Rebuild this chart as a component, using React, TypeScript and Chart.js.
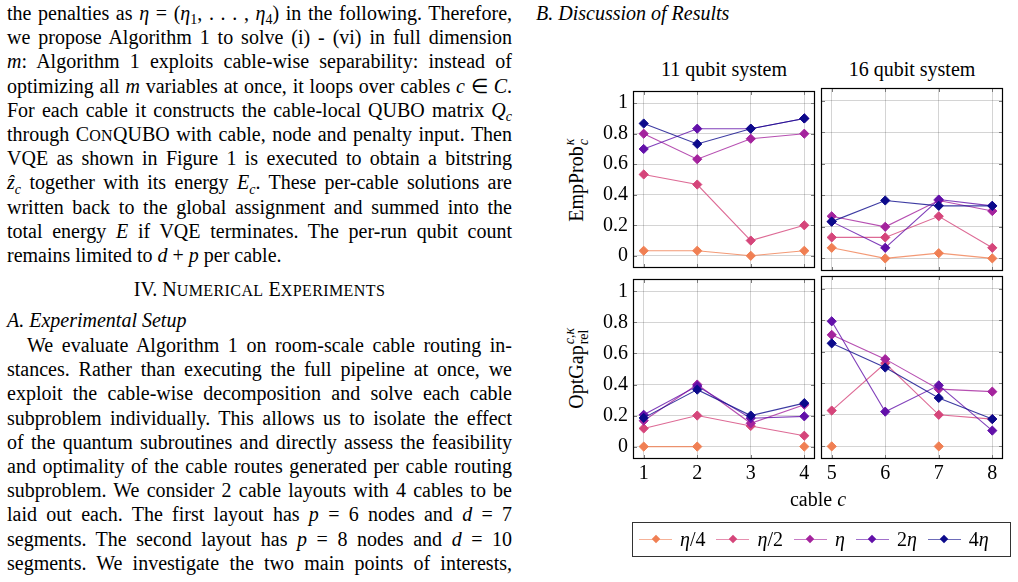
import React, { useEffect, useRef } from 'react';
import { Chart, registerables } from 'chart.js';

Chart.register(...registerables);

// ---------- data ----------
const seriesLabels = ['η/4', 'η/2', 'η', '2η', '4η'];
const seriesColors = ['#f07f53', '#d5457a', '#a4239d', '#6210a9', '#0c0a8b'];
const lineColors = [
  'rgba(240,127,83,0.8)',
  'rgba(213,69,122,0.8)',
  'rgba(164,35,157,0.8)',
  'rgba(98,16,169,0.8)',
  'rgba(12,10,139,0.8)',
];

const cables11 = [1, 2, 3, 4];
const cables16 = [5, 6, 7, 8];
const xTickLabels11 = ['1', '2', '3', '4'];
const xTickLabels16 = ['5', '6', '7', '8'];
const yTicks = [0, 0.2, 0.4, 0.6, 0.8, 1];
const yTickLabels = ['0', '0.2', '0.4', '0.6', '0.8', '1'];

// EmpProb, 11 qubit system (cables 1-4)
const emp11Eta4 = [0.033, 0.033, 0, 0.033];
const emp11Eta2 = [0.533, 0.467, 0.1, 0.2];
const emp11Eta = [0.8, 0.633, 0.767, 0.8];
const emp11Eta2x = [0.7, 0.833, 0.833, 0.9];
const emp11Eta4x = [0.867, 0.733, 0.833, 0.9];

// EmpProb, 16 qubit system (cables 5-8)
const emp16Eta4 = [0.067, 0, 0.033, 0];
const emp16Eta2 = [0.133, 0.133, 0.267, 0.067];
const emp16Eta = [0.267, 0.2, 0.367, 0.3];
const emp16Eta2x = [0.233, 0.067, 0.373, 0.333];
const emp16Eta4x = [0.233, 0.367, 0.333, 0.333];

// OptGap, 11 qubit system
const gap11Eta4 = [0, 0, null, 0];
const gap11Eta2 = [0.117, 0.2, 0.133, 0.07];
const gap11Eta = [0.167, 0.4, 0.15, 0.27];
const gap11Eta2x = [0.205, 0.39, 0.183, 0.195];
const gap11Eta4x = [0.185, 0.367, 0.2, 0.28];

// OptGap, 16 qubit system
const gap16Eta4 = [0, null, 0, null];
const gap16Eta2 = [0.227, 0.527, 0.2, 0.173];
const gap16Eta = [0.707, 0.553, 0.363, 0.347];
const gap16Eta2x = [0.793, 0.22, 0.387, 0.1];
const gap16Eta4x = [0.653, 0.5, 0.307, 0.173];

const yMin = -0.08;
const yMax = 1.08;

// ---------- styles ----------
const serif = '"Liberation Serif", "Times New Roman", serif';
const tickFont = { family: serif, size: 20 };
const gridColor = 'rgba(0,0,0,0.17)';

const framePlugin = {
  id: 'frame',
  afterDraw(chart: any) {
    const { ctx, chartArea: a, scales } = chart;
    const tl = 4;
    ctx.save();
    ctx.strokeStyle = '#7a7a7a';
    ctx.lineWidth = 1;
    ctx.beginPath();
    scales.x.ticks.forEach((t: any) => {
      const px = Math.round(scales.x.getPixelForValue(t.value)) + 0.5;
      ctx.moveTo(px, a.top);
      ctx.lineTo(px, a.top + tl);
      ctx.moveTo(px, a.bottom);
      ctx.lineTo(px, a.bottom - tl);
    });
    scales.y.ticks.forEach((t: any) => {
      const py = Math.round(scales.y.getPixelForValue(t.value)) + 0.5;
      ctx.moveTo(a.left, py);
      ctx.lineTo(a.left + tl, py);
      ctx.moveTo(a.right, py);
      ctx.lineTo(a.right - tl, py);
    });
    ctx.stroke();
    ctx.strokeStyle = '#000';
    ctx.lineWidth = 1.2;
    ctx.strokeRect(a.left + 0.5, a.top + 0.5, a.right - a.left - 1, a.bottom - a.top - 1);
    ctx.restore();
  },
};

type PanelProps = {
  xs: number[];
  xLabels: string[];
  series: (number | null)[][];
  xMin: number;
  xMax: number;
  showX: boolean;
  showY: boolean;
  left: number;
  top: number;
  width: number;
  height: number;
  pad: { left: number; top: number; right: number; bottom: number };
  yAxisWidth: number;
  xAxisHeight: number;
};

function Panel(p: PanelProps) {
  const ref = useRef<HTMLCanvasElement>(null);
  useEffect(() => {
    const chart = new Chart(ref.current as HTMLCanvasElement, {
      type: 'line',
      data: {
        datasets: p.series.map((vals, i) => ({
          label: seriesLabels[i],
          data: p.xs.map((x, j) => ({ x, y: vals[j] })),
          borderColor: lineColors[i],
          backgroundColor: seriesColors[i],
          pointBackgroundColor: seriesColors[i],
          pointBorderColor: seriesColors[i],
          pointStyle: 'rectRot',
          pointRadius: 4.6,
          pointBorderWidth: 1,
          borderWidth: 1.1,
          spanGaps: false,
          tension: 0,
          order: seriesLabels.length - i,
        })) as any,
      },
      options: {
        animation: false,
        responsive: false,
        maintainAspectRatio: false,
        layout: { padding: p.pad },
        plugins: {
          legend: { display: false },
          tooltip: { enabled: false },
          title: { display: false },
        },
        scales: {
          x: {
            type: 'linear',
            min: p.xMin,
            max: p.xMax,
            afterBuildTicks: (s: any) => {
              s.ticks = p.xs.map((v) => ({ value: v }));
            },
            afterFit: (s: any) => {
              s.height = p.xAxisHeight;
            },
            ticks: {
              display: p.showX,
              padding: 3,
              font: tickFont,
              color: '#000',
              autoSkip: false,
              maxRotation: 0,
              callback: (_v: any, i: number) => p.xLabels[i],
            },
            grid: { color: gridColor, drawTicks: false, lineWidth: 1 },
            border: { display: false },
          },
          y: {
            type: 'linear',
            min: yMin,
            max: yMax,
            afterBuildTicks: (s: any) => {
              s.ticks = yTicks.map((v) => ({ value: v }));
            },
            afterFit: (s: any) => {
              s.width = p.yAxisWidth;
            },
            ticks: {
              display: p.showY,
              padding: 5,
              font: tickFont,
              color: '#000',
              autoSkip: false,
              callback: (_v: any, i: number) => yTickLabels[i],
            },
            grid: { color: gridColor, drawTicks: false, lineWidth: 1 },
            border: { display: false },
          },
        } as any,
      },
      plugins: [framePlugin],
    });
    return () => chart.destroy();
  }, []);
  return (
    <canvas
      ref={ref}
      width={p.width}
      height={p.height}
      style={{ position: 'absolute', left: p.left, top: p.top, width: p.width, height: p.height }}
    />
  );
}

// ---------- text helpers ----------
const M = ({ children }: { children: React.ReactNode }) => <i>{children}</i>;
const Sub = ({ children }: { children: React.ReactNode }) => (
  <span style={{ fontSize: '70%', position: 'relative', top: '0.3em', lineHeight: 0 }}>{children}</span>
);
const SC = ({ children }: { children: React.ReactNode }) => (
  <span style={{ fontSize: '80%', letterSpacing: '0.4px' }}>{children}</span>
);

const lineH = 24.2;
const J = ({ children, last, indent }: { children: React.ReactNode; last?: boolean; indent?: boolean }) => (
  <div
    style={{
      height: lineH,
      lineHeight: lineH + 'px',
      textAlign: last ? 'left' : 'justify',
      textAlignLast: last ? 'left' : 'justify',
      textIndent: indent ? 20 : 0,
      whiteSpace: 'nowrap',
    }}
  >
    {children}
  </div>
);

function etaLabel(s: string) {
  return s.split('').map((ch, i) => (ch === 'η' ? <i key={i}>η</i> : <span key={i}>{ch}</span>));
}

const SupSub = ({ sup, sub, w }: { sup: React.ReactNode; sub: React.ReactNode; w: number }) => (
  <span style={{ position: 'relative', display: 'inline-block', width: w, height: 0, marginLeft: 1 }}>
    <span style={{ position: 'absolute', left: 0, top: -20, fontSize: 14, lineHeight: '14px' }}>{sup}</span>
    <span style={{ position: 'absolute', left: 0, top: -6, fontSize: 14, lineHeight: '14px' }}>{sub}</span>
  </span>
);

export default function App() {
  const colStyle: React.CSSProperties = {
    position: 'absolute',
    left: 7,
    width: 505,
    fontFamily: serif,
    fontSize: 20,
    color: '#000',
  };

  return (
    <div style={{ position: 'absolute', left: 0, top: 0, width: 1018, height: 582, background: '#fff', fontFamily: serif, color: '#000' }}>
      {/* left column */}
      <div style={{ ...colStyle, top: 1 }}>
        <J>
          the penalties as <M>η</M> = (<M>η</M>
          <Sub>1</Sub>, . . . , <M>η</M>
          <Sub>4</Sub>) in the following. Therefore,
        </J>
        <J>we propose Algorithm 1 to solve (i) - (vi) in full dimension</J>
        <J>
          <M>m</M>: Algorithm 1 exploits cable-wise separability: instead of
        </J>
        <J>
          optimizing all <M>m</M> variables at once, it loops over cables <M>c</M> ∈ <M>C</M>.
        </J>
        <J>
          For each cable it constructs the cable-local QUBO matrix <M>Q</M>
          <Sub>
            <M>c</M>
          </Sub>
        </J>
        <J>
          through C<SC>ON</SC>QUBO with cable, node and penalty input. Then
        </J>
        <J>VQE as shown in Figure 1 is executed to obtain a bitstring</J>
        <J>
          <M>{'z\u0302'}</M>
          <Sub>
            <M>c</M>
          </Sub>{' '}
          together with its energy <M>E</M>
          <Sub>
            <M>c</M>
          </Sub>
          . These per-cable solutions are
        </J>
        <J>written back to the global assignment and summed into the</J>
        <J>
          total energy <M>E</M> if VQE terminates. The per-run qubit count
        </J>
        <J last>
          remains limited to <M>d</M> + <M>p</M> per cable.
        </J>
      </div>
      <div style={{ ...colStyle, top: 1 + 10 * lineH + 34, textAlign: 'center', lineHeight: lineH + 'px' }}>
        IV. N<SC>UMERICAL</SC> E<SC>XPERIMENTS</SC>
      </div>
      <div style={{ ...colStyle, top: 1 + 10 * lineH + 65, lineHeight: lineH + 'px', fontStyle: 'italic' }}>
        A. Experimental Setup
      </div>
      <div style={{ ...colStyle, top: 1 + 10 * lineH + 90 }}>
        <J indent>We evaluate Algorithm 1 on room-scale cable routing in-</J>
        <J>stances. Rather than executing the full pipeline at once, we</J>
        <J>exploit the cable-wise decomposition and solve each cable</J>
        <J>subproblem individually. This allows us to isolate the effect</J>
        <J>of the quantum subroutines and directly assess the feasibility</J>
        <J>and optimality of the cable routes generated per cable routing</J>
        <J>subproblem. We consider 2 cable layouts with 4 cables to be</J>
        <J>
          laid out each. The first layout has <M>p</M> = 6 nodes and <M>d</M> = 7
        </J>
        <J>
          segments. The second layout has <M>p</M> = 8 nodes and <M>d</M> = 10
        </J>
        <J>segments. We investigate the two main points of interests,</J>
      </div>

      {/* right column heading */}
      <div style={{ position: 'absolute', left: 536, top: 1, fontSize: 20, lineHeight: lineH + 'px', fontStyle: 'italic', fontFamily: serif }}>
        B. Discussion of Results
      </div>

      {/* panel titles */}
      <div style={{ position: 'absolute', left: 633, width: 182, top: 57, textAlign: 'center', fontSize: 20, lineHeight: '24px', whiteSpace: 'nowrap' }}>
        11 qubit system
      </div>
      <div style={{ position: 'absolute', left: 821, width: 182, top: 57, textAlign: 'center', fontSize: 20, lineHeight: '24px', whiteSpace: 'nowrap' }}>
        16 qubit system
      </div>

      {/* y axis titles */}
      <div
        style={{
          position: 'absolute',
          left: 576,
          top: 179,
          transform: 'translate(-50%, -50%) rotate(-90deg)',
          fontSize: 20,
          whiteSpace: 'nowrap',
          lineHeight: '24px',
        }}
      >
        EmpProb
        <SupSub sup={<i>κ</i>} sub={<i>c</i>} w={9} />
      </div>
      <div
        style={{
          position: 'absolute',
          left: 576,
          top: 367,
          transform: 'translate(-50%, -50%) rotate(-90deg)',
          fontSize: 20,
          whiteSpace: 'nowrap',
          lineHeight: '24px',
        }}
      >
        OptGap
        <SupSub sup={<i>c,κ</i>} sub={<span>rel</span>} w={19} />
      </div>

      {/* panels */}
      <Panel
        xs={cables11}
        xLabels={xTickLabels11}
        series={[emp11Eta4, emp11Eta2, emp11Eta, emp11Eta2x, emp11Eta4x]}
        xMin={0.8}
        xMax={4.2}
        showX={false}
        showY={true}
        left={590}
        top={74}
        width={233}
        height={211}
        pad={{ left: 0, top: 14, right: 8, bottom: 14 }}
        yAxisWidth={43}
        xAxisHeight={0}
      />
      <Panel
        xs={cables16}
        xLabels={xTickLabels16}
        series={[emp16Eta4, emp16Eta2, emp16Eta, emp16Eta2x, emp16Eta4x]}
        xMin={4.8}
        xMax={8.2}
        showX={false}
        showY={false}
        left={813}
        top={74}
        width={198}
        height={211}
        pad={{ left: 8, top: 14, right: 8, bottom: 14 }}
        yAxisWidth={0}
        xAxisHeight={0}
      />
      <Panel
        xs={cables11}
        xLabels={xTickLabels11}
        series={[gap11Eta4, gap11Eta2, gap11Eta, gap11Eta2x, gap11Eta4x]}
        xMin={0.8}
        xMax={4.2}
        showX={true}
        showY={true}
        left={590}
        top={262}
        width={233}
        height={231}
        pad={{ left: 0, top: 14, right: 8, bottom: 4 }}
        yAxisWidth={43}
        xAxisHeight={30}
      />
      <Panel
        xs={cables16}
        xLabels={xTickLabels16}
        series={[gap16Eta4, gap16Eta2, gap16Eta, gap16Eta2x, gap16Eta4x]}
        xMin={4.8}
        xMax={8.2}
        showX={true}
        showY={false}
        left={813}
        top={262}
        width={198}
        height={231}
        pad={{ left: 8, top: 14, right: 8, bottom: 4 }}
        yAxisWidth={0}
        xAxisHeight={30}
      />

      {/* x axis title */}
      <div style={{ position: 'absolute', left: 718, width: 200, top: 487, textAlign: 'center', fontSize: 20, lineHeight: '24px' }}>
        cable <i>c</i>
      </div>

      {/* legend */}
      <div
        style={{
          position: 'absolute',
          left: 632,
          top: 522,
          width: 379,
          height: 35,
          boxSizing: 'border-box',
          border: '1px solid #333',
          display: 'flex',
          alignItems: 'center',
          paddingLeft: 6,
          fontSize: 20,
          whiteSpace: 'nowrap',
          overflow: 'hidden',
        }}
      >
        {seriesLabels.map((l, i) => (
          <div key={i} style={{ display: 'flex', alignItems: 'center', marginRight: 11 }}>
            <div style={{ position: 'relative', width: 33, height: 12 }}>
              <div style={{ position: 'absolute', left: 0, right: 0, top: 5, height: 1.5, background: lineColors[i], opacity: 0.75 }} />
              <div
                style={{
                  position: 'absolute',
                  left: 13.5,
                  top: 2.5,
                  width: 6,
                  height: 6,
                  background: seriesColors[i],
                  transform: 'rotate(45deg)',
                }}
              />
            </div>
            <span style={{ marginLeft: 8 }}>{etaLabel(l)}</span>
          </div>
        ))}
      </div>
    </div>
  );
}
